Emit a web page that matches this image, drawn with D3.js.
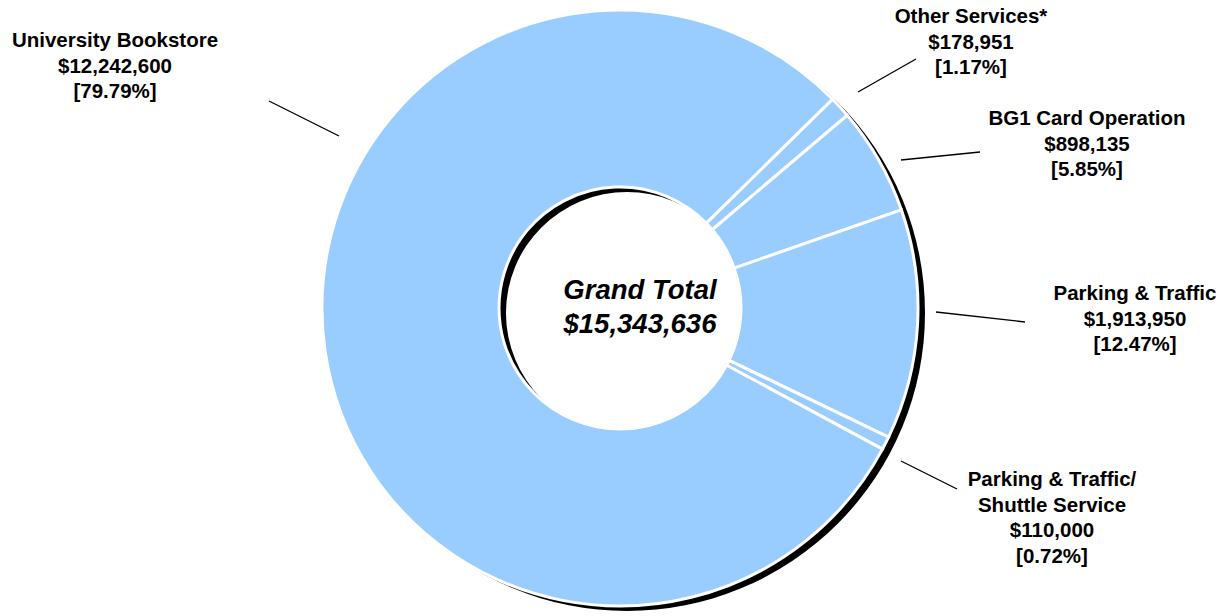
<!DOCTYPE html>
<html>
<head>
<meta charset="utf-8">
<script src="https://cdn.jsdelivr.net/npm/d3@7"></script>
<style>
  body { margin: 0; background: #fff; }
  svg { display: block; font-family: Arial, "Liberation Sans", sans-serif; }
</style>
</head>
<body>
<svg id="chart" width="1230" height="616"></svg>
<script>
// slice names, in drawing order (clockwise from the first slice)
const categories = ["Other Services*", "BG1 Card Operation", "Parking & Traffic", "Parking & Traffic/\nShuttle Service", "University Bookstore"];

// dollar amounts for each slice
const amounts = [178951, 898135, 1913950, 110000, 12242600];

// percent shares as printed on the chart
const shares = ["1.17%", "5.85%", "12.47%", "0.72%", "79.79%"];

const grandTotal = 15343636;

// label placement: text centre, first baseline, leader line from -> to
const labelLayout = [
    { x: 971, y: 23, line: [[858, 92], [916, 59]] },
    { x: 1087, y: 125, line: [[901, 160], [980, 152]] },
    { x: 1135, y: 300, line: [[936, 312], [1025, 322]] },
    { x: 1052, y: 486, line: [[901, 461], [957, 489]] },
    { x: 115, y: 47, line: [[339, 136], [269, 101]] }
];

const svg = d3.select("#chart");

// centre and radii of the ring
const cx = 620, cy = 308;
const outerR = 298, innerR = 121;

const fmt = d3.format("$,");

// first slice starts a bit past 45 degrees
const pie = d3.pie().sort(null).value(d => d).startAngle(45.5 * Math.PI / 180).endAngle((45.5 + 360) * Math.PI / 180);
const arcs = pie(amounts);
const arc = d3.arc().innerRadius(innerR).outerRadius(outerR);

// black drop shadow of the whole ring, shifted down-right
svg.append("path")
    .attr("transform", `translate(${cx + 7},${cy + 5})`)
    .attr("d", d3.arc().innerRadius(innerR).outerRadius(outerR).startAngle(0).endAngle(2 * Math.PI)())
    .attr("fill", "#000");

// the slices
const g = svg.append("g").attr("transform", `translate(${cx},${cy})`);
g.selectAll("path.slice").data(arcs).enter().append("path")
    .attr("class", "slice")
    .attr("d", arc)
    .attr("fill", "#99ccff")
    .attr("stroke", "#fff")
    .attr("stroke-width", 3)
    .attr("stroke-linejoin", "miter");

// leader lines
svg.selectAll("line.leader").data(labelLayout).enter().append("line")
    .attr("class", "leader")
    .attr("x1", d => d.line[0][0]).attr("y1", d => d.line[0][1])
    .attr("x2", d => d.line[1][0]).attr("y2", d => d.line[1][1])
    .attr("stroke", "#000").attr("stroke-width", 1.3);

// slice labels: name lines, amount, [share]
const lineGap = 25.7;
categories.forEach((name, i) => {
    const lines = name.split("\n").concat([fmt(amounts[i]), "[" + shares[i] + "]"]);
    const t = svg.append("text")
        .attr("x", labelLayout[i].x).attr("y", labelLayout[i].y)
        .attr("text-anchor", "middle")
        .attr("font-size", "20.5px").attr("font-weight", "bold").attr("fill", "#000");
    lines.forEach((s, k) => {
        t.append("tspan").attr("x", labelLayout[i].x).attr("dy", k === 0 ? 0 : lineGap).text(s);
    });
});

// grand total in the hole
const c = svg.append("text")
    .attr("x", 640).attr("y", 299)
    .attr("text-anchor", "middle")
    .attr("font-size", "27.5px").attr("font-weight", "bold").attr("font-style", "italic");
c.append("tspan").attr("x", 640).attr("dy", 0).text("Grand Total");
c.append("tspan").attr("x", 640).attr("dy", 33.5).text(fmt(grandTotal));
</script>
</body>
</html>
